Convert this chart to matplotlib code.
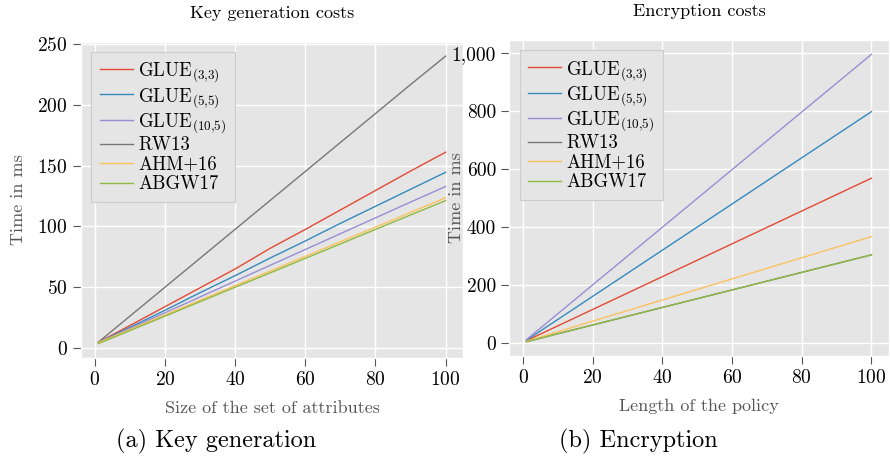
import matplotlib
matplotlib.use("Agg")
import matplotlib.pyplot as plt
from matplotlib.ticker import StrMethodFormatter

plt.style.use("ggplot")
plt.rcParams["font.family"] = ["cmr10", "DejaVu Serif"]
plt.rcParams["mathtext.fontset"] = "cm"
plt.rcParams["axes.formatter.use_mathtext"] = True
plt.rcParams["axes.unicode_minus"] = False

# Key generation: time (ms) vs size of the set of attributes
kg_x = [1, 10, 20, 30, 40, 50, 60, 70, 80, 90, 100]
kg_glue33 = [4.6, 18.5, 34.0, 49.5, 65.0, 82.0, 97.5, 113.5, 129.5, 145.5, 161.0]
kg_glue55 = [4.5, 17.0, 31.0, 45.5, 59.5, 74.0, 88.0, 102.5, 116.5, 130.5, 144.5]
kg_glue105 = [4.3, 16.0, 29.0, 42.0, 55.0, 68.0, 81.0, 94.0, 107.0, 120.0, 132.8]
kg_rw13 = [4.8, 26.2, 50.0, 73.8, 97.6, 121.4, 145.2, 169.0, 192.8, 216.6, 240.0]
kg_ahm16 = [4.4, 15.2, 27.2, 39.3, 51.3, 63.3, 75.4, 87.4, 99.4, 111.5, 123.5]
kg_abgw17 = [3.6, 14.3, 26.2, 38.1, 50.0, 61.8, 73.7, 85.6, 97.5, 109.4, 121.2]

# Encryption: time (ms) vs length of the policy
enc_x = [1, 100]
enc_glue33 = [7.5, 569]
enc_glue55 = [9, 799]
enc_glue105 = [11, 997]
enc_rw13 = [4, 304]
enc_ahm16 = [5.5, 367]
enc_abgw17 = [4, 304]

labels = [r"GLUE$_{(3{,}3)}$", r"GLUE$_{(5{,}5)}$", r"GLUE$_{(10{,}5)}$", "RW13", "AHM+16", "ABGW17"]
colors = ["#E24A33", "#348ABD", "#988ED5", "#777777", "#FBC15E", "#8EBA42"]

fig = plt.figure(figsize=(8.9, 4.63), dpi=100)
ax1 = fig.add_axes([0.0910, 0.2268, 0.4292, 0.683])
ax2 = fig.add_axes([0.5722, 0.2311, 0.4263, 0.6825])

kg_series = [kg_glue33, kg_glue55, kg_glue105, kg_rw13, kg_ahm16, kg_abgw17]
enc_series = [enc_glue33, enc_glue55, enc_glue105, enc_rw13, enc_ahm16, enc_abgw17]

for ys, lab, c in zip(kg_series, labels, colors):
    ax1.plot(kg_x, ys, color=c, lw=1.0, label=lab)
for ys, lab, c in zip(enc_series, labels, colors):
    ax2.plot(enc_x, ys, color=c, lw=1.0, label=lab)

ax1.set_title("Key generation costs", fontsize=13, color="black", pad=17)
ax2.set_title("Encryption costs", fontsize=13, color="black", pad=17)
ax1.set_xlabel("Size of the set of attributes", fontsize=13, color="#555555", labelpad=8)
ax2.set_xlabel("Length of the policy", fontsize=13, color="#555555", labelpad=8)
ax1.set_ylabel("Time in ms", fontsize=13, color="#555555")
ax2.set_ylabel("Time in ms", fontsize=13, color="#555555")
ax1.yaxis.set_label_coords(-0.144, 0.5)
ax2.yaxis.set_label_coords(-0.118, 0.5)

ax1.set_xticks([0, 20, 40, 60, 80, 100])
ax1.set_yticks([0, 50, 100, 150, 200, 250])
ax2.set_xticks([0, 20, 40, 60, 80, 100])
ax2.set_yticks([0, 200, 400, 600, 800, 1000])
ax2.yaxis.set_major_formatter(StrMethodFormatter("{x:,.0f}"))

for ax in (ax1, ax2):
    ax.set_facecolor("#E5E5E5")
    ax.grid(True, color="white", lw=1.0)
    ax.tick_params(direction="out", length=6, width=0.8, color="#555555",
                   labelsize=14, labelcolor="black")
    leg = ax.legend(loc="upper left", fontsize=13.5, handlelength=1.75,
                    handletextpad=0.3, labelspacing=0.08, borderpad=0.45,
                    borderaxespad=0.55, fancybox=False,
                    facecolor="#E5E5E5", edgecolor="#CCCCCC", framealpha=1)
    leg.get_frame().set_linewidth(0.8)

fig.text(0.243, 0.047, "(a) Key generation", fontsize=17.5, ha="center", va="center")
fig.text(0.717, 0.047, "(b) Encryption", fontsize=17.5, ha="center", va="center")

fig.savefig("out.png", dpi=100)
